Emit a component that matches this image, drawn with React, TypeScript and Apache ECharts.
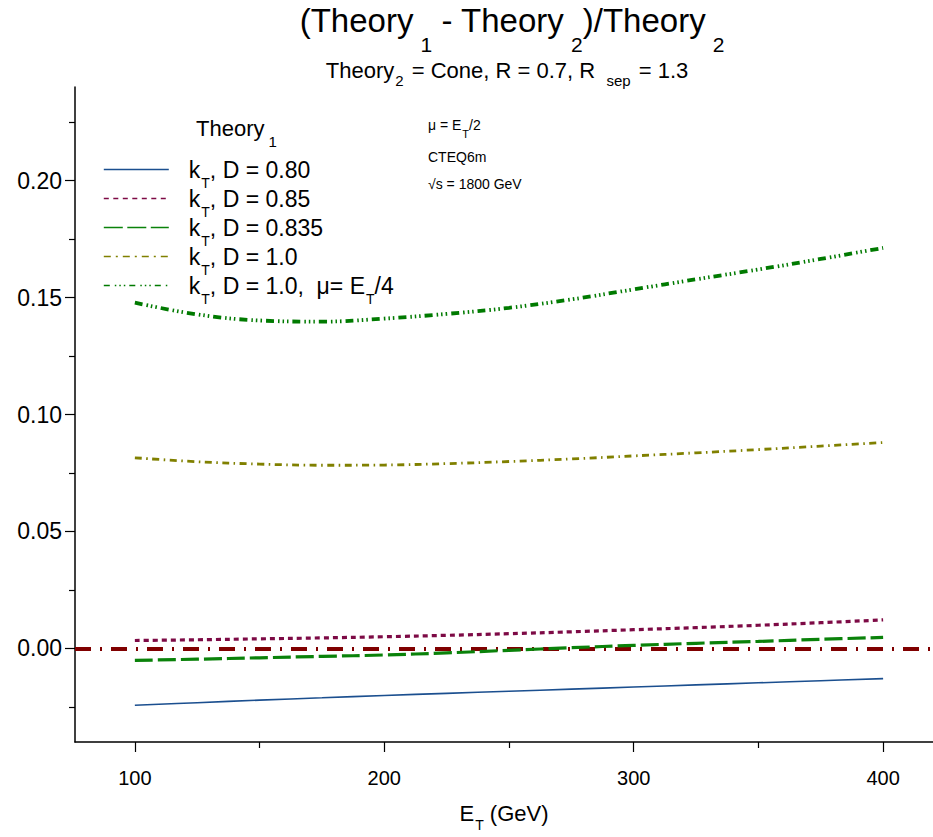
import React, { useEffect, useRef } from "react";
import * as echarts from "echarts";

// ---------- data ----------
const ET = [100, 125, 150, 175, 200, 225, 250, 275, 300, 325, 350, 375, 400];
const KT_D080 = [-0.0243, -0.0232, -0.0221, -0.0211, -0.0201, -0.0192, -0.0183, -0.0174, -0.0165, -0.0156, -0.0147, -0.0138, -0.0129];
const KT_D085 = [0.0034, 0.0037, 0.0041, 0.0045, 0.005, 0.0056, 0.0063, 0.0071, 0.008, 0.0089, 0.0099, 0.011, 0.0122];
const KT_D0835 = [-0.0051, -0.0046, -0.004, -0.0034, -0.0028, -0.0019, -0.0008, 0.0003, 0.0013, 0.0022, 0.003, 0.0039, 0.0047];
const KT_D10 = [0.0815, 0.0798, 0.0788, 0.0783, 0.0784, 0.079, 0.0799, 0.081, 0.0823, 0.0836, 0.085, 0.0865, 0.088];
const KT_D10_MU4 = [0.1478, 0.1428, 0.1402, 0.1397, 0.141, 0.143, 0.1456, 0.1492, 0.1535, 0.1578, 0.162, 0.1665, 0.1712];

const SERIES_NAMES = ["kT, D = 0.80", "kT, D = 0.85", "kT, D = 0.835", "kT, D = 1.0", "kT, D = 1.0, mu = ET/4"];
const SERIES_LABELS = [
  "{n|k}{s|T}{n|, D = 0.80}",
  "{n|k}{s|T}{n|, D = 0.85}",
  "{n|k}{s|T}{n|, D = 0.835}",
  "{n|k}{s|T}{n|, D = 1.0}",
  "{n|k}{s|T}{n|, D = 1.0,  μ= E}{s|T}{n|/4}",
];
const SERIES_VALUES = [KT_D080, KT_D085, KT_D0835, KT_D10, KT_D10_MU4];

const X_MIN = 76;
const X_MAX = 420;
const Y_MIN = -0.04;
const Y_MAX = 0.24;
const X_MAJOR = [100, 200, 300, 400];
const X_MINOR = [150, 250, 350];
const Y_MAJOR = [0, 0.05, 0.1, 0.15, 0.2];
const Y_MINOR = [-0.025, 0.025, 0.075, 0.125, 0.175, 0.225];
const REFERENCE_VALUE = 0;

// ---------- styles ----------
const FONT = "'Liberation Sans', Arial, Helvetica, sans-serif";
const COLORS = ["#1b4f8f", "#7d0a45", "#0a820a", "#808000", "#007a00"];
const WIDTHS = [1.6, 3.2, 3.2, 2.8, 3.8];
const DASHES: any[] = ["solid", [5, 4], [18, 5], [7, 4.5, 1.5, 4.5], [8, 4, 1.5, 3, 1.5, 3, 1.5, 4]];
const LEGEND_WIDTHS = [1.5, 1.3, 1.5, 1.6, 1.6];
const LEGEND_DASHES: any[] = ["solid", [5, 4.5], [19, 4.5], [7, 5, 2, 5], [6, 5, 1.5, 3, 1.5, 3, 1.5, 4]];

const legendRich = {
  n: { fontSize: 23, fontFamily: FONT, color: "#000", lineHeight: 23, verticalAlign: "top" },
  s: { fontSize: 14, fontFamily: FONT, color: "#000", lineHeight: 14, padding: [18, 0, 0, 1], verticalAlign: "top" },
};
const nameRich = {
  n: { fontSize: 22, fontFamily: FONT, color: "#000", lineHeight: 24, verticalAlign: "top" },
  s: { fontSize: 14, fontFamily: FONT, color: "#000", lineHeight: 14, padding: [16, 0, 0, 1], verticalAlign: "top" },
};

export default function App() {
  const ref = useRef<HTMLDivElement>(null);
  useEffect(() => {
    if (!ref.current) return;
    const chart = echarts.init(ref.current, null, { renderer: "svg" });
    const series: any[] = SERIES_NAMES.map((name, i) => ({
      name,
      type: "line",
      data: ET.map((x, j) => [x, SERIES_VALUES[i][j]]),
      smooth: 0.4,
      symbol: "none",
      color: COLORS[i],
      lineStyle: { color: COLORS[i], width: WIDTHS[i], type: DASHES[i], cap: "butt" },
      z: 3 + i,
    }));
    series[0].markLine = {
      silent: true,
      symbol: "none",
      label: { show: false },
      lineStyle: { color: "#800000", width: 4, type: [16, 9, 2, 9], cap: "butt" },
      data: [{ yAxis: REFERENCE_VALUE }],
      z: 2,
    };

    const axisCommon = {
      type: "value",
      splitLine: { show: false },
    };

    chart.setOption({
      animation: false,
      backgroundColor: "#fff",
      textStyle: { fontFamily: FONT },
      grid: { left: 75, right: 0, top: 87, bottom: 87, containLabel: false },
      xAxis: [
        {
          ...axisCommon,
          min: X_MIN,
          max: X_MAX,
          position: "bottom",
          axisLine: { show: true, onZero: false, lineStyle: { color: "#000", width: 1.5 } },
          axisTick: { show: true, customValues: X_MAJOR, length: 10, lineStyle: { color: "#000", width: 1.2 } },
          axisLabel: {
            customValues: X_MAJOR,
            margin: 26,
            fontSize: 20,
            fontFamily: FONT,
            color: "#000",
          },
          name: "{n|E}{s|T}{n| (GeV)}",
          nameLocation: "middle",
          nameGap: 60,
          nameTextStyle: { rich: nameRich },
        },
        {
          ...axisCommon,
          min: X_MIN,
          max: X_MAX,
          position: "bottom",
          axisLine: { show: false, onZero: false },
          axisTick: { show: true, customValues: X_MINOR, length: 6, lineStyle: { color: "#000", width: 1.2 } },
          axisLabel: { show: false },
        },
      ],
      yAxis: [
        {
          ...axisCommon,
          min: Y_MIN,
          max: Y_MAX,
          position: "left",
          axisLine: { show: true, onZero: false, lineStyle: { color: "#000", width: 1.5 } },
          axisTick: { show: true, customValues: Y_MAJOR, length: 10, lineStyle: { color: "#000", width: 1.2 } },
          axisLabel: {
            customValues: Y_MAJOR,
            margin: 13,
            fontSize: 23,
            fontFamily: FONT,
            color: "#000",
            formatter: (v: number) => v.toFixed(2),
          },
        },
        {
          ...axisCommon,
          min: Y_MIN,
          max: Y_MAX,
          position: "left",
          axisLine: { show: false, onZero: false },
          axisTick: { show: true, customValues: Y_MINOR, length: 6, lineStyle: { color: "#000", width: 1.2 } },
          axisLabel: { show: false },
        },
      ],
      legend: {
        orient: "vertical",
        left: 103,
        top: 158,
        padding: 0,
        itemWidth: 65,
        itemHeight: 14,
        itemGap: -3,
        selectedMode: false,
        itemStyle: { opacity: 0, color: "rgba(0,0,0,0)", borderWidth: 0 },
        data: SERIES_NAMES.map((name, i) => ({
          name,
          itemStyle: { opacity: 0, color: "rgba(0,0,0,0)", borderWidth: 0 },
          lineStyle: { width: LEGEND_WIDTHS[i], type: LEGEND_DASHES[i], color: COLORS[i], cap: "butt" },
        })),
        formatter: (name: string) => SERIES_LABELS[SERIES_NAMES.indexOf(name)],
        textStyle: { rich: legendRich, padding: [0, 0, 0, 15] },
      },
      graphic: [
        {
          type: "text",
          x: 512,
          y: 4,
          style: {
            text: "{n|(Theory}{s|1}{n| - Theory}{s|2}{n|)/Theory}{s|2}",
            align: "center",
            verticalAlign: "top",
            rich: {
              n: { fontSize: 33, fontFamily: FONT, fill: "#000", lineHeight: 38, verticalAlign: "top" },
              s: { fontSize: 21, fontFamily: FONT, fill: "#000", lineHeight: 18, padding: [30, 0, 0, 7], verticalAlign: "top" },
            },
          },
        },
        {
          type: "text",
          x: 507,
          y: 59,
          style: {
            text: "{n|Theory}{s|2}{n| = Cone, R = 0.7, R }{s| sep}{n| = 1.3}",
            align: "center",
            verticalAlign: "top",
            rich: {
              n: { fontSize: 22, fontFamily: FONT, fill: "#000", lineHeight: 22, verticalAlign: "top" },
              s: { fontSize: 15, fontFamily: FONT, fill: "#000", lineHeight: 15, padding: [14, 2, 0, 1], verticalAlign: "top" },
            },
          },
        },
        {
          type: "text",
          x: 196,
          y: 117,
          style: {
            text: "{n|Theory}{s|1}",
            align: "left",
            verticalAlign: "top",
            rich: {
              n: { fontSize: 22, fontFamily: FONT, fill: "#000", lineHeight: 26, verticalAlign: "top" },
              s: { fontSize: 15, fontFamily: FONT, fill: "#000", lineHeight: 15, padding: [17, 0, 0, 4], verticalAlign: "top" },
            },
          },
        },
        {
          type: "text",
          x: 428,
          y: 118,
          style: {
            text: "{n|μ = E}{s|T}{n|/2}",
            align: "left",
            verticalAlign: "top",
            rich: {
              n: { fontSize: 14, fontFamily: FONT, fill: "#000", lineHeight: 17, verticalAlign: "top" },
              s: { fontSize: 11, fontFamily: FONT, fill: "#000", lineHeight: 11, padding: [10, 0, 0, 1], verticalAlign: "top" },
            },
          },
        },
        {
          type: "text",
          x: 428,
          y: 150,
          style: { text: "CTEQ6m", fontSize: 14, fontFamily: FONT, fill: "#000", align: "left", verticalAlign: "top" },
        },
        {
          type: "text",
          x: 428,
          y: 177,
          style: { text: "√s = 1800 GeV", fontSize: 14, fontFamily: FONT, fill: "#000", align: "left", verticalAlign: "top" },
        },
      ],
      series,
    });
    return () => chart.dispose();
  }, []);
  return <div ref={ref} style={{ position: "fixed", left: 0, top: 0, width: 933, height: 837 }} />;
}
